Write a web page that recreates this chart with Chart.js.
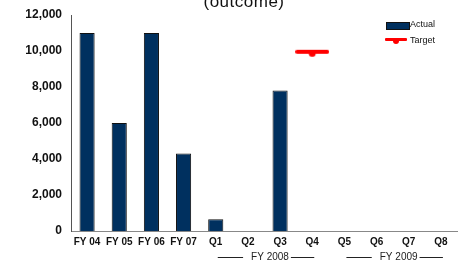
<!DOCTYPE html>
<html>
<head>
<meta charset="utf-8">
<script src="https://cdn.jsdelivr.net/npm/chart.js@4.4.1/dist/chart.umd.min.js"></script>
<style>
  html, body { margin: 0; padding: 0; background: #fff; overflow: hidden; }
  #wrap { position: relative; width: 464px; height: 263px; font-family: "Liberation Sans", Arial, sans-serif; }
  #title { position: absolute; left: 0; width: 488px; top: -7px; text-align: center; font-size: 17px; line-height: 17px; color: #111; letter-spacing: 0.5px; }
  .leg { position: absolute; font-size: 9px; color: #111; line-height: 9px; }
  .leg-box { position: absolute; width: 22px; height: 6px; background: #00305f; border: 1px solid #111; }
  .leg-line { position: absolute; width: 22px; height: 3px; background: #f00; border-radius: 1px; }
  .leg-dot { position: absolute; width: 6px; height: 6px; background: #f00; border-radius: 50%; }
</style>
</head>
<body>
<div id="wrap">
  <canvas id="chart" width="464" height="263"></canvas>
  <div id="title">(outcome)</div>
  <div class="leg-box" style="left:386px; top:22px;"></div>
  <div class="leg" style="left:410px; top:20px;">Actual</div>
  <div class="leg-line" style="left:385px; top:38px;"></div>
  <div class="leg-dot" style="left:393px; top:38px;"></div>
  <div class="leg" style="left:410px; top:36px;">Target</div>
</div>
<script>
// --- Data ---
const CATEGORIES = ["FY 04", "FY 05", "FY 06", "FY 07", "Q1", "Q2", "Q3", "Q4", "Q5", "Q6", "Q7", "Q8"];
const ACTUAL = [11000, 6000, 11000, 4300, 650, null, 7800, null, null, null, null, null];
const TARGET = [null, null, null, null, null, null, null, 9900, null, null, null, null];
const Y_TICKS = [0, 2000, 4000, 6000, 8000, 10000, 12000];
const GROUPS = [
  { label: "FY 2008", from: "Q1", to: "Q4" },
  { label: "FY 2009", from: "Q5", to: "Q8" },
];

// --- Target marker (dash with dot) ---
function makeTargetMarker() {
  const c = document.createElement("canvas");
  c.width = 34;
  c.height = 10;
  const ctx = c.getContext("2d");
  ctx.strokeStyle = "#f00";
  ctx.lineWidth = 4;
  ctx.lineCap = "round";
  ctx.beginPath();
  ctx.moveTo(2, 4);
  ctx.lineTo(32, 4);
  ctx.stroke();
  ctx.fillStyle = "#f00";
  ctx.beginPath();
  ctx.arc(17, 5.5, 3.5, 0, Math.PI * 2);
  ctx.fill();
  return c;
}

// --- Group labels under the quarter ticks ---
const groupLabels = {
  id: "groupLabels",
  afterDraw(chart) {
    const ctx = chart.ctx;
    const x = chart.scales.x;
    ctx.save();
    ctx.font = "10px 'Liberation Sans', Arial, sans-serif";
    ctx.fillStyle = "#222";
    ctx.strokeStyle = "#222";
    ctx.lineWidth = 1;
    ctx.textAlign = "center";
    ctx.textBaseline = "middle";
    const y = 257;
    GROUPS.forEach(g => {
      const a = x.getPixelForValue(CATEGORIES.indexOf(g.from));
      const b = x.getPixelForValue(CATEGORIES.indexOf(g.to));
      const mid = (a + b) / 2 + 6;
      const w = ctx.measureText(g.label).width;
      ctx.fillText(g.label, mid, y);
      ctx.beginPath();
      ctx.moveTo(a + 2, y + 0.5);
      ctx.lineTo(mid - w / 2 - 8, y + 0.5);
      ctx.moveTo(mid + w / 2 + 2, y + 0.5);
      ctx.lineTo(b + 2, y + 0.5);
      ctx.stroke();
    });
    ctx.restore();
  },
};

const ctx = document.getElementById("chart").getContext("2d");
new Chart(ctx, {
  data: {
    labels: CATEGORIES,
    datasets: [
      {
        type: "line",
        label: "Target",
        data: TARGET,
        showLine: false,
        pointStyle: makeTargetMarker(),
        pointRadius: 6,
        order: 0,
      },
      {
        type: "bar",
        label: "Actual",
        data: ACTUAL,
        backgroundColor: "#00305f",
        borderColor: "#111",
        borderWidth: 1,
        categoryPercentage: 1,
        barPercentage: 0.47,
        order: 1,
      },
    ],
  },
  options: {
    responsive: false,
    animation: false,
    layout: { padding: { top: 15, right: 3, left: 0, bottom: 0 } },
    plugins: {
      legend: { display: false },
      tooltip: { enabled: false },
    },
    scales: {
      x: {
        grid: { display: false, drawTicks: false },
        border: { color: "#888", width: 1 },
        ticks: {
          color: "#111",
          font: { family: "'Liberation Sans', Arial, sans-serif", size: 10, weight: "bold" },
          padding: 5,
          maxRotation: 0,
          autoSkip: false,
        },
        afterFit: s => { s.height = 32; },
      },
      y: {
        min: 0,
        max: 12000,
        afterBuildTicks: s => { s.ticks = Y_TICKS.map(v => ({ value: v })); },
        grid: { display: false, drawOnChartArea: false, drawTicks: true, tickLength: 3, tickColor: "#555" },
        border: { color: "#555", width: 1 },
        ticks: {
          color: "#111",
          font: { family: "'Liberation Sans', Arial, sans-serif", size: 12, weight: "bold" },
          padding: 6,
          callback: v => v.toLocaleString("en-US"),
        },
        afterFit: s => { s.width = 71; },
      },
    },
  },
  plugins: [groupLabels],
});
</script>
</body>
</html>
